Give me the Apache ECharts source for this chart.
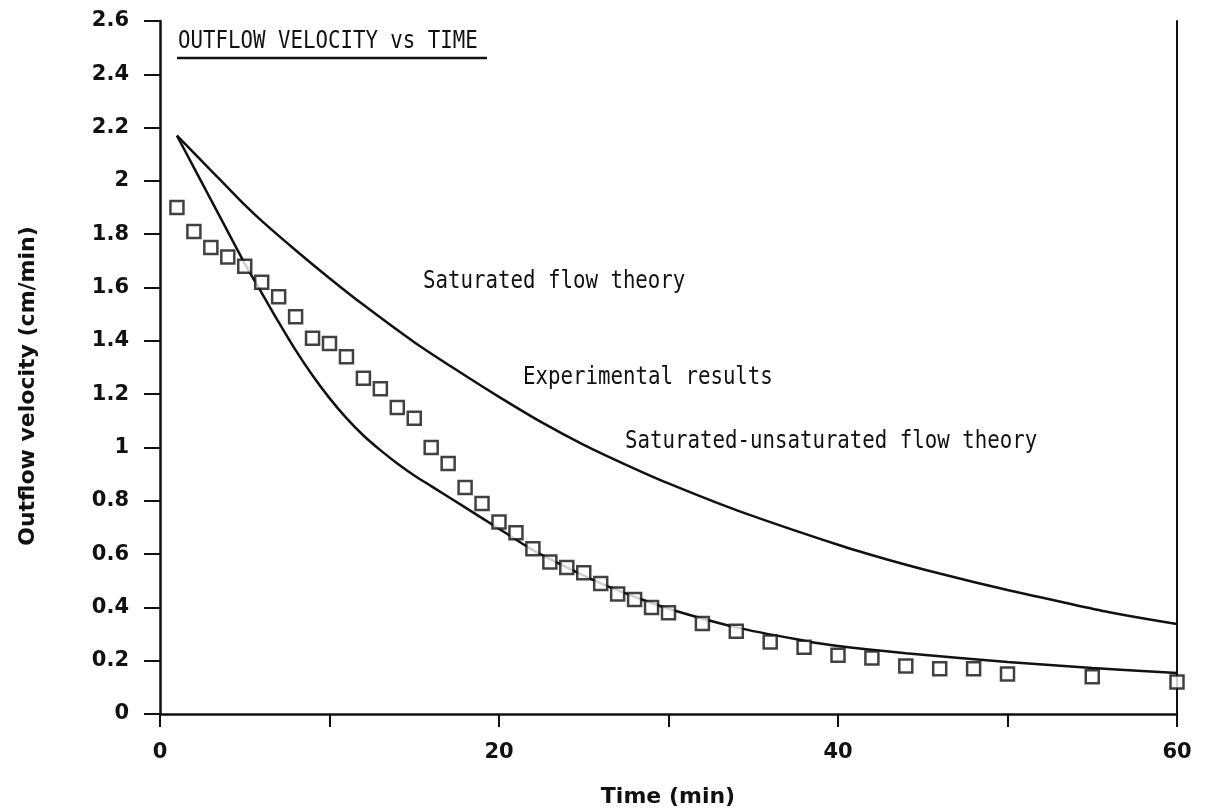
<!DOCTYPE html>
<html><head><meta charset="utf-8">
<script src="https://cdn.jsdelivr.net/npm/echarts@6/dist/echarts.min.js"></script>
<style>html,body{margin:0;background:#fff}#c{width:1205px;height:812px}</style>
</head><body><div id="c"></div>
<script>
// Experimental results (squares)
const expTime = [1,2,3,4,5,6,7,8,9,10,11,12,13,14,15,16,17,18,19,20,21,22,23,24,25,26,27,28,29,30,32,34,36,38,40,42,44,46,48,50,55,60];
const expVel  = [1.90,1.81,1.75,1.715,1.68,1.62,1.565,1.49,1.41,1.39,1.34,1.26,1.22,1.15,1.11,1.00,0.94,0.85,0.79,0.72,0.68,0.62,0.57,0.55,0.53,0.49,0.45,0.43,0.40,0.38,0.34,0.31,0.27,0.25,0.22,0.21,0.18,0.17,0.17,0.15,0.14,0.12];
// Upper theory curve
const upperTime = [1,2,3,4,5,6,8,10,12,15,18,20,22.5,25,27.5,30,34,40,43,46,50,53,56,60];
const upperVel  = [2.17,2.105,2.04,1.975,1.91,1.85,1.74,1.635,1.535,1.395,1.27,1.19,1.095,1.01,0.935,0.865,0.765,0.635,0.578,0.527,0.465,0.423,0.382,0.338];
// Lower theory curve
const lowerTime = [1,2,3,4,5,6,7,8,9,10,11,12,13,14,15,16,18,20,22,24,26,28,30,34,38,40,44,50,55,60];
const lowerVel  = [2.17,2.05,1.93,1.81,1.69,1.58,1.47,1.365,1.27,1.185,1.11,1.045,0.99,0.94,0.895,0.855,0.775,0.695,0.615,0.55,0.49,0.44,0.395,0.325,0.275,0.255,0.228,0.195,0.173,0.154];
const xLabelValues = [0,20,40,60];
const titleText = 'OUTFLOW VELOCITY vs TIME';
const notes = ['Saturated flow theory','Experimental results','Saturated-unsaturated flow theory'];

const zip = (a,b) => a.map((v,i)=>[v,b[i]]);
const ink = '#111';
const chart = echarts.init(document.getElementById('c'));
const mono = '"DejaVu Sans Mono", monospace';
const sans = '"DejaVu Sans", sans-serif';
const monoText = (txt, x, y) => ({type:'text', x:x, y:y, scaleX:0.83, scaleY:1,
  style:{text:txt, font:'25px '+mono, fill:ink, textVerticalAlign:'middle'}});
chart.setOption({
  backgroundColor:'#fff',
  animation:false,
  grid:{left:160,right:28,top:21,bottom:98},
  xAxis:{type:'value',min:0,max:60,interval:10,
    axisLine:{lineStyle:{color:ink,width:2.5}},
    axisTick:{length:13,lineStyle:{color:ink,width:2}},
    splitLine:{show:false},
    axisLabel:{margin:28,color:ink,fontFamily:sans,fontWeight:'bold',fontSize:21,
      formatter:v=>xLabelValues.includes(v)?String(v):''}},
  yAxis:[{type:'value',min:0,max:2.6,interval:0.2,
    axisLine:{show:true,lineStyle:{color:ink,width:2.5}},
    axisTick:{show:true,length:16,lineStyle:{color:ink,width:2}},
    splitLine:{show:false},
    axisLabel:{margin:31,color:ink,fontFamily:sans,fontWeight:'bold',fontSize:21}},
   {type:'value',min:0,max:2.6,position:'right',
    axisLine:{show:true,lineStyle:{color:ink,width:2}},
    axisTick:{show:false},axisLabel:{show:false},splitLine:{show:false}}],
  series:[
    {name:notes[0],type:'line',data:zip(upperTime,upperVel),showSymbol:false,smooth:0.3,
     lineStyle:{color:ink,width:2.5}},
    {name:notes[2],type:'line',data:zip(lowerTime,lowerVel),showSymbol:false,smooth:0.3,
     lineStyle:{color:ink,width:2.5}},
    {name:notes[1],type:'scatter',data:zip(expTime,expVel),symbol:'rect',symbolSize:13,z:3,
     itemStyle:{color:'#fff',borderColor:ink,borderWidth:2.5}}
  ],
  graphic:[
    monoText(titleText,178,41),
    {type:'line',shape:{x1:177,y1:58,x2:487,y2:58},style:{stroke:ink,lineWidth:2.5}},
    monoText(notes[0],423,281),
    monoText(notes[1],523,377),
    monoText(notes[2],625,441),
    {type:'text',x:668,y:797,style:{text:'Time (min)',font:'bold 22px '+sans,fill:ink,textAlign:'center',textVerticalAlign:'middle'}},
    {type:'text',x:28,y:386,rotation:Math.PI/2,style:{text:'Outflow velocity (cm/min)',font:'bold 22px '+sans,fill:ink,textAlign:'center',textVerticalAlign:'middle'}}
  ]
});
</script></body></html>
